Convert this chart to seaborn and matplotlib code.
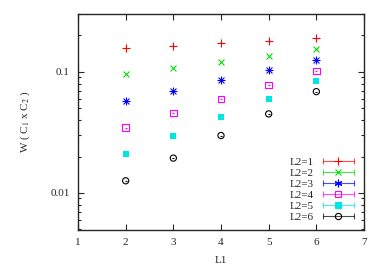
import numpy as np
import pandas as pd
import matplotlib
matplotlib.use("Agg")
import matplotlib.pyplot as plt
import seaborn as sns
from matplotlib.lines import Line2D
from matplotlib.legend_handler import HandlerLine2D, HandlerTuple
from matplotlib.ticker import LogLocator, NullFormatter, FixedLocator

L1 = [2, 3, 4, 5, 6]
w_L2_1 = [0.157, 0.163, 0.173, 0.181, 0.192]
w_L2_2 = [0.096, 0.107, 0.121, 0.135, 0.154]
w_L2_3 = [0.0575, 0.070, 0.085, 0.103, 0.125]
w_L2_4 = [0.0346, 0.0456, 0.060, 0.078, 0.102]
w_L2_5 = [0.0209, 0.0298, 0.0423, 0.0594, 0.0843]
w_L2_6 = [0.0126, 0.0194, 0.0298, 0.045, 0.0687]
labels = ["L2=1", "L2=2", "L2=3", "L2=4", "L2=5", "L2=6"]
series = [w_L2_1, w_L2_2, w_L2_3, w_L2_4, w_L2_5, w_L2_6]

sns.set_style("ticks")
plt.rcParams['font.family'] = ['Liberation Serif', 'DejaVu Serif']
plt.rcParams['mathtext.fontset'] = 'stix'

colors = ["#ff0000", "#00dd00", "#0000ff", "#ff00ff", "#00e5e5", "#000000"]

fig = plt.figure(figsize=(3.82, 2.68), dpi=100)
ax = fig.add_axes([78/382, 1-230/268, (364-78)/382, (230-14)/268])

rows = []
for lab, vals in zip(labels, series):
    for x, v in zip(L1, vals):
        rows.append({"L1": x, "W": v, "L2": lab})
df = pd.DataFrame(rows)

for i, lab in enumerate(labels):
    d = df[df.L2 == lab]
    c = colors[i]
    if i == 0:
        sns.scatterplot(data=d, x="L1", y="W", ax=ax, marker='+', s=26,
                        color=c, linewidth=0.8, legend=False)
    elif i == 1:
        sns.scatterplot(data=d, x="L1", y="W", ax=ax, marker='x', s=18,
                        color=c, linewidth=0.8, legend=False)
    elif i == 2:
        sns.scatterplot(data=d, x="L1", y="W", ax=ax, marker='+', s=26,
                        color=c, linewidth=0.8, legend=False)
        ax.scatter(d.L1, d.W, marker='x', s=18, color=c, linewidth=0.8)
    elif i == 3:
        sns.scatterplot(data=d, x="L1", y="W", ax=ax, marker='s', s=22,
                        facecolors='none', edgecolor=c, linewidth=0.8, legend=False)
        ax.scatter(d.L1, d.W, marker='_', s=4, color=c, linewidth=0.8)
    elif i == 4:
        sns.scatterplot(data=d, x="L1", y="W", ax=ax, marker='s', s=22,
                        color=c, linewidth=0, legend=False)
    else:
        sns.scatterplot(data=d, x="L1", y="W", ax=ax, marker='o', s=20,
                        facecolors='none', edgecolor=c, linewidth=0.8, legend=False)
        ax.scatter(d.L1, d.W, marker='_', s=4, color=c, linewidth=0.8)

ax.set_yscale('log')
ax.set_xlim(1, 7)
ax.set_ylim(0.00494, 0.301)
ax.set_xticks([1, 2, 3, 4, 5, 6, 7])
ax.yaxis.set_major_locator(FixedLocator([0.01, 0.1]))
ax.set_yticklabels(["0.01", "0.1"])
ax.yaxis.set_minor_locator(LogLocator(base=10, subs=np.arange(2, 10)))
ax.yaxis.set_minor_formatter(NullFormatter())
ax.tick_params(axis='both', which='both', direction='in', top=True, right=True,
               labelsize=8, width=0.8)
ax.tick_params(axis='both', which='major', length=4, pad=6)
ax.tick_params(axis='y', which='minor', length=2)
for sp in ax.spines.values():
    sp.set_linewidth(1.0)
ax.set_xlabel("L1", fontsize=8, labelpad=6)
ax.set_ylabel(r"W ( C$_1$ x C$_2$ )", fontsize=8, labelpad=13)

# legend with gnuplot-like error bar keys
handles = []
hmap = {}
legmarkers = [
    dict(marker='+', markersize=5.5, mfc=colors[0]),
    dict(marker='x', markersize=4.5, mfc=colors[1]),
    dict(marker=(6, 2, 0), markersize=5.5, mfc=colors[2]),
    dict(marker='s', markersize=5, mfc='none'),
    dict(marker='s', markersize=5, mfc=colors[4]),
    dict(marker='o', markersize=4.5, mfc='none'),
]
for i in range(6):
    capline = Line2D([], [], color=colors[i], linestyle='-', linewidth=0.8, alpha=0.7,
                     marker='|', markersize=4, markeredgewidth=0.8)
    mk = legmarkers[i]
    mline = Line2D([], [], color=colors[i], linestyle='none', marker=mk['marker'],
                   markersize=mk['markersize'], markerfacecolor=mk['mfc'],
                   markeredgecolor=colors[i], markeredgewidth=0.8)
    hmap[capline] = HandlerLine2D(numpoints=2)
    hmap[mline] = HandlerLine2D(numpoints=1)
    handles.append((capline, mline))
hmap[tuple] = HandlerTuple(ndivide=1, pad=0)
leg = ax.legend(handles, labels, handler_map=hmap,
                loc='lower right', bbox_to_anchor=(1.0, 0.005), frameon=False,
                fontsize=8, markerfirst=False, handlelength=3.4, handletextpad=0.5,
                labelspacing=0.12, borderaxespad=0.2)

fig.savefig("out.png", dpi=100)
